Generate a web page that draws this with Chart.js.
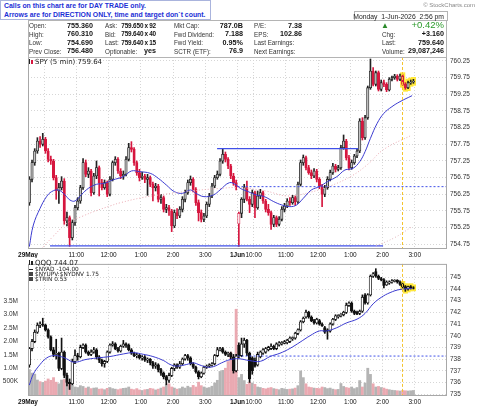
<!DOCTYPE html>
<html>
<head>
<meta charset="utf-8">
<script src="https://cdn.jsdelivr.net/npm/chart.js@4.4.1/dist/chart.umd.min.js"></script>
<style>
  body { margin: 0; width: 480px; height: 406px; background: #fff; position: relative; overflow: hidden;
         font-family: "Liberation Sans", Arial, sans-serif; }
  canvas { position: absolute; left: 0; }
  #top { top: 0; }
  #bottom { top: 257px; }
  .t { position: absolute; white-space: nowrap; line-height: 9px; z-index: 2; }
  .lb { font-size: 6.3px; color: #333; }
  .vl { font-size: 7.2px; font-weight: bold; color: #111; word-spacing: -0.5px; }
  .vs { font-size: 6.4px; letter-spacing: -0.15px; word-spacing: -0.4px; }
  #note { position: absolute; left: 0; top: 0; width: 206px; height: 18px; border: 1px solid #aab4dd;
          background: #fff; color: #1c2fd6; font-weight: bold; font-size: 6.9px; line-height: 9px;
          padding: 0 0 0 3px; z-index: 3; white-space: nowrap; }
  #info { position: absolute; left: 28px; top: 20px; width: 417px; height: 36px; border: 1px solid #b4b4b4;
          background: #fff; z-index: 1; }
  #tab { position: absolute; left: 354px; top: 11px; width: 92px; height: 9px; border: 1px solid #b4b4b4;
         border-bottom: none; background: #fff; z-index: 1; }
  .lg { position: absolute; white-space: nowrap; font-family: "DejaVu Sans", sans-serif; color: #222; z-index: 2; }
</style>
</head>
<body>
<canvas id="top" width="480" height="258"></canvas>
<canvas id="bottom" width="480" height="149"></canvas>

<div id="note">Calls on this chart are for DAY TRADE only.<br>Arrows are for DIRECTION ONLY, time and target don`t count.</div>
<div class="t" style="right:5px;top:1px;font-size:6px;color:#888;">© StockCharts.com</div>
<div id="tab"></div>
<div id="info"></div>
<div class="t" style="right:36px;top:11.5px;font-size:6.8px;color:#222;">Monday&nbsp; 1-Jun-2026&nbsp; 2:56 pm</div>

<div class="t lb" style="left:29px;top:21px;">Open:</div>
<div class="t lb" style="left:29px;top:29.5px;">High:</div>
<div class="t lb" style="left:29px;top:38px;">Low:</div>
<div class="t lb" style="left:29px;top:46.5px;">Prev Close:</div>
<div class="t vl" style="right:387px;top:20.5px;">755.360</div>
<div class="t vl" style="right:387px;top:29px;">760.310</div>
<div class="t vl" style="right:387px;top:37.5px;">754.690</div>
<div class="t vl" style="right:387px;top:46px;">756.480</div>

<div class="t lb" style="left:105px;top:21px;">Ask:</div>
<div class="t lb" style="left:105px;top:29.5px;">Bid:</div>
<div class="t lb" style="left:105px;top:38px;">Last:</div>
<div class="t lb" style="left:105px;top:46.5px;">Optionable:</div>
<div class="t vl vs" style="right:324px;top:20.5px;">759.650 x 92</div>
<div class="t vl vs" style="right:324px;top:29px;">759.640 x 40</div>
<div class="t vl vs" style="right:324px;top:37.5px;">759.640 x 15</div>
<div class="t vl" style="right:324px;top:46px;">yes</div>

<div class="t lb" style="left:174px;top:21px;">Mkt Cap:</div>
<div class="t lb" style="left:174px;top:29.5px;">Fwd Dividend:</div>
<div class="t lb" style="left:174px;top:38px;">Fwd Yield:</div>
<div class="t lb" style="left:174px;top:46.5px;">SCTR (ETF):</div>
<div class="t vl" style="right:237px;top:20.5px;">787.0B</div>
<div class="t vl" style="right:237px;top:29px;">7.188</div>
<div class="t vl" style="right:237px;top:37.5px;">0.95%</div>
<div class="t vl" style="right:237px;top:46px;">76.9</div>

<div class="t lb" style="left:254px;top:21px;">P/E:</div>
<div class="t lb" style="left:254px;top:29.5px;">EPS:</div>
<div class="t lb" style="left:254px;top:38px;">Last Earnings:</div>
<div class="t lb" style="left:254px;top:46.5px;">Next Earnings:</div>
<div class="t vl" style="right:178px;top:20.5px;">7.38</div>
<div class="t vl" style="right:178px;top:29px;">102.86</div>

<div class="t" style="left:381px;top:20.5px;font-size:8px;color:#2a8a2a;">▲</div>
<div class="t" style="right:36px;top:20px;font-size:9.5px;color:#2a9a2a;">+0.42%</div>
<div class="t lb" style="left:382px;top:29.5px;">Chg:</div>
<div class="t lb" style="left:382px;top:38px;">Last:</div>
<div class="t lb" style="left:382px;top:46.5px;">Volume:</div>
<div class="t vl" style="right:36px;top:29px;">+3.160</div>
<div class="t vl" style="right:36px;top:37.5px;">759.640</div>
<div class="t vl" style="right:36px;top:46px;">29,087,246</div>

<div class="lg" style="left:29px;top:58px;font-size:7px;line-height:8px;">
  <span style="display:inline-block;width:1px;height:5px;background:#222;margin-right:1px;"></span><span style="display:inline-block;width:2px;height:4px;background:#d6173f;margin-right:2px;"></span>SPY (5 min) 759.64</div>

<div class="lg" style="left:29px;top:260px;font-size:7px;line-height:7px;">
  <span style="display:inline-block;width:1px;height:5px;background:#222;margin-right:1px;"></span><span style="display:inline-block;width:2px;height:4px;background:#222;margin-right:2px;"></span>QQQ 744.07</div>
<div class="lg" style="left:29px;top:266px;font-size:5.8px;line-height:6px;">
  <span style="display:inline-block;width:4px;height:1px;background:#222;vertical-align:middle;margin-right:2px;"></span>$NYAD -104.00</div>
<div class="lg" style="left:29px;top:271px;font-size:5.8px;line-height:6px;">
  <span style="display:inline-block;width:4px;height:4px;background:#444;margin-right:2px;"></span>$NYUPV:$NYDNV 1.75</div>
<div class="lg" style="left:29px;top:276px;font-size:5.8px;line-height:6px;">
  <span style="display:inline-block;width:4px;height:4px;background:#444;margin-right:2px;"></span>$TRIN 0.53</div>

<script>
// SPY 5 min bars [open, high, low, close]
const spy29May = [
  [756.00,756.78,755.92,756.70],[756.70,757.28,756.62,757.20],[757.20,757.62,757.12,757.55],[757.55,757.95,757.48,757.85],
  [757.85,757.98,757.66,757.75],[757.75,758.08,757.70,757.90],[757.90,757.96,757.48,757.55],[757.55,757.62,757.22,757.30],
  [757.30,757.40,757.15,757.25],[757.25,757.30,756.68,756.75],[756.75,756.82,756.10,756.35],[756.35,756.58,755.98,756.45],
  [756.45,756.78,756.38,756.65],[756.65,756.72,755.35,755.45],[755.45,755.72,755.30,755.55],[755.55,755.60,754.69,754.95],
  [754.95,755.48,754.88,755.40],[755.40,755.92,755.32,755.85],[755.85,756.15,755.78,756.05],[756.05,756.52,755.98,756.45],
  [756.45,757.32,756.40,757.20],[757.20,757.28,756.78,756.85],[756.85,757.05,756.75,756.95],[756.95,757.00,756.20,756.30],
  [756.30,756.88,756.25,756.80],[756.80,757.25,756.72,757.05],[757.05,757.10,756.20,756.60],[756.60,756.70,756.38,756.45],
  [756.45,756.68,756.40,756.60],[756.60,756.65,756.18,756.25],[756.25,756.78,756.20,756.70],[756.70,757.25,756.65,757.20],
  [757.20,757.38,757.12,757.30],[757.30,757.35,756.88,756.95],[756.95,757.02,756.72,756.80],[756.80,756.95,756.70,756.85],
  [756.85,757.38,756.80,757.30],[757.30,757.78,757.25,757.65],[757.65,757.83,757.52,757.60],[757.60,757.65,757.12,757.20],
  [757.20,757.25,756.82,756.90],[756.90,757.00,756.65,756.75],[756.75,756.92,756.70,756.80],[756.80,756.85,756.60,756.70],
  [756.70,756.85,756.22,756.75],[756.75,756.80,756.48,756.55],[756.55,756.62,756.05,756.45],[756.45,756.58,756.35,756.50],
  [756.50,756.55,756.02,756.10],[756.10,756.25,755.98,756.15],[756.15,756.20,755.72,755.80],[755.80,755.95,755.70,755.85],
  [755.85,755.92,755.62,755.75],[755.75,755.80,755.13,755.30],[755.30,755.78,755.25,755.70],[755.70,755.82,755.52,755.60],
  [755.60,755.88,755.55,755.80],[755.80,756.18,755.72,756.10],[756.10,756.38,756.02,756.30],[756.30,756.68,756.25,756.60],
  [756.60,756.80,756.52,756.70],[756.70,756.75,756.32,756.40],[756.40,756.45,755.92,756.00],[756.00,756.08,755.45,755.70],
  [755.70,755.78,755.42,755.50],[755.50,755.68,755.43,755.60],[755.60,756.02,755.55,755.95],[755.95,756.28,755.88,756.20],
  [756.20,756.58,756.15,756.50],[756.50,756.82,756.45,756.75],[756.75,756.95,756.70,756.85],[756.85,757.32,756.80,757.25],
  [757.25,757.63,757.18,757.45],[757.45,757.52,757.22,757.30],[757.30,757.35,757.02,757.10],[757.10,757.15,756.72,756.80],
  [756.80,756.88,756.52,756.60],[756.60,756.68,756.38,756.48]
];
const spy1Jun = [
  [755.36,755.72,754.69,755.68],[755.68,756.15,755.55,756.10],[756.10,756.55,756.00,756.45],[756.45,756.65,756.05,756.10],
  [756.10,756.18,755.70,755.95],[755.95,756.38,755.88,756.30],[756.30,756.35,755.55,755.85],[755.85,756.35,755.80,756.20],
  [756.20,756.40,756.12,756.30],[756.30,756.35,755.98,756.05],[756.05,756.10,755.72,755.80],[755.80,755.95,755.62,755.70],
  [755.70,755.75,755.20,755.35],[755.35,755.62,755.28,755.55],[755.55,755.60,755.28,755.35],[755.35,755.58,755.30,755.50],
  [755.50,755.88,755.45,755.80],[755.80,755.98,755.72,755.90],[755.90,756.12,755.85,756.05],[756.05,756.15,755.92,756.00],
  [756.00,756.22,755.95,756.15],[756.15,756.20,755.92,756.02],[756.02,756.62,755.98,756.55],[756.55,757.28,756.50,757.20],
  [757.20,757.43,757.12,757.35],[757.35,757.40,756.98,757.05],[757.05,757.12,756.85,756.90],[756.90,756.98,756.72,756.80],
  [756.80,757.02,756.75,756.95],[756.95,757.00,756.62,756.70],[756.70,756.75,756.42,756.50],[756.50,756.55,755.88,756.25],
  [756.25,756.52,756.18,756.45],[756.45,756.78,756.40,756.70],[756.70,756.98,756.65,756.90],[756.90,757.18,756.85,757.10],
  [757.10,757.15,756.92,757.00],[757.00,757.12,756.95,757.05],[757.05,757.72,757.00,757.65],[757.65,758.03,757.60,757.85],
  [757.85,757.90,757.28,757.35],[757.35,757.42,756.98,757.05],[757.05,757.28,757.00,757.20],[757.20,757.45,757.15,757.40],
  [757.40,757.62,757.35,757.55],[757.55,758.52,757.50,758.45],[758.45,758.55,757.88,757.95],[757.95,758.62,757.90,758.55],
  [758.55,759.50,758.50,759.45],[759.45,760.31,759.40,759.95],[759.95,760.05,759.50,759.55],[759.55,759.95,759.50,759.90],
  [759.90,759.95,759.35,759.40],[759.40,759.68,759.35,759.60],[759.60,759.68,759.48,759.55],[759.55,759.60,759.33,759.38],
  [759.38,759.75,759.35,759.70],[759.70,759.80,759.65,759.75],[759.75,759.85,759.70,759.80],[759.80,759.84,759.65,759.70],
  [759.70,759.86,759.66,759.80],[759.80,759.84,759.52,759.55],[759.55,759.60,759.40,759.45],[759.45,759.65,759.42,759.60],
  [759.60,759.68,759.55,759.62],[759.62,759.70,759.58,759.64]
];

// QQQ 5 min bars [open, high, low, close]
const qqq29May = [
  [737.5,739.0,737.3,738.9],[738.9,739.7,738.7,739.5],[739.5,740.5,739.4,740.3],[740.3,741.1,740.2,740.9],
  [740.9,741.2,740.7,741.0],[741.0,741.5,740.8,740.9],[740.9,741.0,740.4,740.5],[740.5,740.6,739.8,739.9],
  [739.9,740.0,738.7,738.8],[738.8,739.0,738.2,738.4],[738.4,739.7,738.0,738.5],[738.5,738.6,737.0,737.2],
  [737.2,739.8,737.1,738.6],[738.6,738.7,736.4,736.6],[736.6,736.8,735.7,736.0],[736.0,736.3,735.4,735.9],
  [735.9,738.0,735.8,737.8],[737.8,738.8,737.6,738.3],[738.3,738.5,737.9,738.2],[738.2,739.2,738.1,739.0],
  [739.0,739.3,738.9,739.2],[739.2,739.3,738.5,738.6],[738.6,738.7,738.3,738.4],[738.4,738.8,738.3,738.6],
  [738.6,739.0,738.5,738.8],[738.8,738.9,738.0,738.2],[738.2,738.3,737.7,737.9],[737.9,738.0,737.4,737.6],
  [737.6,737.9,737.3,737.8],[737.8,738.7,737.7,738.6],[738.6,739.3,738.5,739.2],[739.2,739.5,739.1,739.3],
  [739.3,739.4,738.8,738.9],[738.9,739.0,738.6,738.7],[738.7,739.2,738.6,739.1],[739.1,739.6,739.0,739.3],
  [739.3,739.4,739.0,739.2],[739.2,739.3,738.7,738.8],[738.8,738.9,738.4,738.5],[738.5,738.6,738.2,738.3],
  [738.3,738.5,738.1,738.35],[738.35,738.4,738.0,738.1],[738.1,738.3,737.9,738.2],[738.2,738.3,737.8,737.9],
  [737.9,738.1,737.7,738.0],[738.0,738.05,737.5,737.7],[737.7,737.8,737.2,737.4],[737.4,737.7,737.2,737.5],
  [737.5,737.6,736.9,737.1],[737.1,737.2,736.6,736.8],[736.8,736.9,736.3,736.5],[736.5,736.6,735.8,736.2],
  [736.2,736.8,736.0,736.6],[736.6,737.3,736.5,737.2],[737.2,737.6,737.0,737.5],[737.5,737.6,737.2,737.3],
  [737.3,737.8,737.2,737.6],[737.6,738.1,737.5,738.0],[738.0,738.4,737.9,738.3],[738.3,738.4,737.9,738.1],
  [738.1,738.2,737.5,737.6],[737.6,737.7,737.2,737.3],[737.3,737.4,736.8,736.9],[736.9,737.0,736.3,736.5],
  [736.5,736.9,736.4,736.8],[736.8,737.4,736.7,737.3],[737.3,737.5,737.2,737.4],[737.4,737.6,737.3,737.5],
  [737.5,737.7,737.4,737.6],[737.6,738.4,737.5,738.3],[738.3,739.0,738.2,738.8],[738.8,739.0,738.7,738.9],
  [738.9,739.0,738.5,738.6],[738.6,738.7,738.3,738.4],[738.4,738.6,738.2,738.5],[738.5,738.6,738.0,738.2],
  [738.2,738.4,736.8,737.0],[737.0,738.4,736.9,738.26]
];
const qqq1Jun = [
  [739.2,739.4,738.1,738.3],[738.3,739.8,738.2,739.3],[739.3,739.8,739.0,739.6],[739.6,739.7,738.3,738.5],
  [738.5,738.6,736.0,736.3],[738.1,738.2,736.7,737.0],[737.9,738.1,737.3,737.4],[737.5,738.6,737.4,738.4],
  [738.2,738.7,738.1,738.6],[738.5,738.9,738.4,738.8],[738.6,739.0,738.5,738.9],[738.8,739.1,738.7,739.0],
  [738.9,739.3,738.8,739.1],[739.1,739.2,738.8,738.9],[738.9,739.4,738.8,739.3],[739.2,739.5,739.1,739.4],
  [739.3,739.5,739.2,739.45],[739.35,739.6,739.3,739.5],[739.4,739.7,739.3,739.6],[739.5,739.9,739.4,739.8],
  [739.75,739.9,739.6,739.85],[739.8,740.3,739.7,740.2],[740.2,740.6,740.1,740.5],[740.5,741.3,740.4,741.2],
  [741.2,741.6,741.1,741.5],[741.6,742.2,741.5,742.0],[742.0,742.1,741.5,741.6],[741.6,741.7,741.2,741.3],
  [741.3,741.4,741.0,741.1],[741.1,741.5,741.0,741.4],[741.3,741.4,740.9,741.0],[741.0,741.1,740.8,740.85],
  [740.7,740.8,740.2,740.3],[740.5,740.6,739.7,740.4],[740.4,741.1,740.3,741.0],[741.0,741.5,740.9,741.4],
  [741.4,741.8,741.3,741.7],[741.6,741.8,741.5,741.75],[741.7,741.9,741.6,741.85],[741.8,742.1,741.7,742.0],
  [742.0,742.8,741.9,742.6],[742.6,742.9,742.5,742.8],[742.8,742.9,742.0,742.1],[742.1,742.2,741.8,741.9],
  [742.0,742.1,741.8,741.85],[741.9,742.2,741.8,742.1],[742.1,743.5,742.0,743.3],[743.5,743.6,742.7,742.8],
  [742.8,743.6,742.7,743.5],[743.5,745.2,743.4,745.1],[745.1,745.4,745.0,745.3],[745.5,745.74,745.0,745.1],
  [745.1,745.2,744.8,744.9],[744.9,745.0,744.7,744.8],[744.8,744.9,744.1,744.3],[744.35,744.7,744.3,744.6],
  [744.5,744.7,744.4,744.6],[744.6,744.8,744.5,744.7],[744.65,744.8,744.6,744.75],[744.75,744.8,744.5,744.6],
  [744.6,744.7,744.3,744.4],[744.4,744.5,744.1,744.2],[744.2,744.3,743.8,744.0],[744.0,744.25,743.9,744.2],
  [744.2,744.3,744.0,744.1],[744.1,744.2,744.0,744.07]
];

// SPY volume, thousands of shares per bar
const volume29May = [950,820,780,560,500,470,520,600,550,650,480,420,560,580,470,420,380,300,280,350,
  320,260,300,240,260,270,220,230,200,250,280,240,220,200,230,250,260,300,220,200,
  240,190,170,200,210,250,230,190,220,260,300,380,420,300,260,220,240,300,260,330,
  280,360,300,480,350,300,260,280,330,450,550,880,920,1000,1250,1600,1300,3200];
const volume1Jun = [650,770,540,400,480,450,400,300,280,250,230,260,280,240,220,200,250,230,210,220,
  230,260,350,900,650,420,300,280,260,250,240,300,280,240,260,220,200,210,430,320,
  280,260,300,240,280,540,300,450,1000,770,420,300,320,280,260,220,200,180,170,160,
  150,170,160,150,160,170];

// moving averages [bar, value]
const spyMaFast = [[0,754.68],[1.5,755.33],[4,755.83],[6.4,756.18],[8.3,756.33],[10.8,756.38],[13.3,756.23],[15.1,756.08],
  [17,756.05],[19.5,756.25],[22,756.43],[25,756.55],[28,756.58],[31,756.68],[35,756.78],[38,756.95],[41,756.93],
  [45,756.88],[48,756.73],[51,756.53],[54,756.33],[57,756.28],[60,756.38],[62,756.28],[65,756.18],[68.5,756.23],
  [71,756.38],[74.5,756.6],[77,756.53],[78.5,756.43],[81.5,756.33],[84.5,756.23],[87.5,756.18],[91,756.03],
  [94,755.93],[97,755.88],[99.5,755.93],[102,756.13],[105,756.38],[108,756.48],[111,756.63],[114.5,756.78],
  [117.5,756.98],[120.5,757.03],[123,757.23],[125,757.53],[127,757.93],[129.5,758.38],[132,758.68],[135,758.88],
  [138,759.03],[142.5,759.21]];
const spyMaSlow = [[5,754.66],[9,755.0],[14,755.38],[20,755.6],[24,755.73],[30,755.9],[34,756.0],[42,756.15],
  [50,756.25],[60,756.35],[70,756.42],[78,756.45],[88,756.35],[96,756.2],[104,756.3],[112,756.5],[120,756.8],
  [126,757.15],[132,757.6],[142.5,758.03]];
const spyMaLong = [[129,754.70],[136,754.95],[142.5,755.28]];
const qqqMa = [[0,735.77],[1.5,736.72],[4,737.54],[6.4,738.09],[9,738.3],[12,738.2],[14.5,737.95],[16,737.76],
  [18,737.76],[20.7,737.95],[25,738.09],[30,738.22],[35,738.44],[38.7,738.55],[42.4,738.41],[46,738.22],[50,737.87],
  [52.4,737.54],[54.8,737.4],[58.6,737.54],[61,737.68],[63.5,737.49],[66,737.32],[68.5,737.35],[71.6,737.68],
  [74.7,737.95],[78,738.03],[82,737.87],[86,737.81],[89.6,738.22],[93.3,738.5],[97,738.91],[100.8,739.45],
  [104.5,740.0],[108,740.41],[110.7,740.41],[114.4,740.68],[118,741.09],[122,741.42],[125,741.91],[128,742.73],
  [131,743.28],[134.3,743.69],[138,743.96],[142.5,744.04]];

// drawn levels [fromBar, toBar, price]
const spySupport = [7.7, 131.7, 754.70];
const spyResistance = [69.9, 122.4, 757.62];
const spyPrevClose = [77.5, 155.5, 756.48];
const qqqPrevClose = [77.5, 155.5, 738.26];
const markerBar = 138.7;
const highlightFrom = 139;

// axes
const xTicks = [-0.5, 5.5, 17.5, 29.5, 41.5, 53.5, 65.5, 77.5, 83.5, 95.5, 107.5, 119.5, 131.5, 143.5];
const xTickLabels = ['29May', '', '11:00', '12:00', '1:00', '2:00', '3:00', '1Jun', '10:00', '11:00', '12:00', '1:00', '2:00', '3:00'];
const spyTicks = [754.75, 755.00, 755.25, 755.50, 755.75, 756.00, 756.25, 756.50, 756.75, 757.00, 757.25, 757.50,
  757.75, 758.00, 758.25, 758.50, 758.75, 759.00, 759.25, 759.50, 759.75, 760.00, 760.25];
const qqqTicks = [735, 736, 737, 738, 739, 740, 741, 742, 743, 744, 745];
const volTicks = [500000, 1000000, 1500000, 2000000, 2500000, 3000000, 3500000];
const volTickLabels = ['500K', '1.0M', '1.5M', '2.0M', '2.5M', '3.0M', '3.5M'];

const FONT = '"Liberation Sans", Arial, sans-serif';
const RED = '#d6173f';
const BLUE = '#3b3bd0';

const spyBars = spy29May.concat(spy1Jun);
const qqqBars = qqq29May.concat(qqq1Jun);
const volume = volume29May.concat(volume1Jun);

function pts(list) { return list.map(p => ({ x: p[0], y: p[1] })); }
function level(l) { return [{ x: l[0], y: l[2] }, { x: l[1], y: l[2] }]; }

function candleSets(bars, colorOf, fillOf, body) {
  const hl = bars.map((b, i) => i >= highlightFrom ? { x: i, y: [b[2] - 0.02 * body.hl, b[1] + 0.02 * body.hl] } : null)
                 .filter(Boolean);
  return [
    { type: 'bar', data: hl, grouped: false, barThickness: 4.5, backgroundColor: '#ffe83a', order: 3 },
    { type: 'bar', grouped: false, barThickness: 1, order: 2,
      data: bars.map((b, i) => ({ x: i, y: [b[2], b[1]] })),
      backgroundColor: bars.map((b, i) => colorOf(b, i)) },
    { type: 'bar', grouped: false, barThickness: body.w, order: 1, borderSkipped: false,
      borderWidth: body.bw,
      data: bars.map((b, i) => ({ x: i, y: [Math.min(b[0], b[3]), Math.max(b[0], b[3])] })),
      backgroundColor: bars.map((b, i) => fillOf(b, i)),
      borderColor: bars.map((b, i) => colorOf(b, i)) }
  ];
}

const spyColor = (b, i) => {
  const prev = i > 0 ? spyBars[i - 1][3] : b[0];
  return b[3] < prev ? RED : '#222';
};
const spyFill = (b, i) => b[3] < b[0] ? RED : (spyColor(b, i) === RED ? '#fff' : '#c4c4c4');
const qqqColor = () => '#111';
const qqqFill = b => b[3] < b[0] ? '#111' : '#fff';

function xScale(h) {
  return {
    type: 'linear', min: -0.5, max: 155.5, offset: false,
    afterBuildTicks: s => { s.ticks = xTicks.map(v => ({ value: v })); },
    afterFit: s => { s.height = h; },
    ticks: { autoSkip: false, maxRotation: 0, padding: 2, color: '#111',
      callback: (v, i) => xTickLabels[i],
      font: c => ({ family: FONT, size: 6.5, weight: /May|Jun/.test(xTickLabels[c.index]) ? 'bold' : 'normal' }) },
    grid: { color: '#d6d6d6', drawTicks: false, offset: false },
    border: { display: false, dash: [1, 2] }
  };
}

function priceScale(min, max, ticks, digits) {
  return {
    position: 'right', min: min, max: max,
    afterBuildTicks: s => { s.ticks = ticks.map(v => ({ value: v })); },
    afterFit: s => { s.width = 33; },
    ticks: { padding: 3, color: '#333', font: { family: FONT, size: 6.5 }, callback: v => v.toFixed(digits) },
    grid: { color: '#d6d6d6', drawTicks: false },
    border: { display: false, dash: [1, 2] }
  };
}

const framePlugin = {
  id: 'frame',
  afterDatasetsDraw(chart) {
    const { ctx, chartArea: a } = chart;
    const x = Math.round(chart.scales.x.getPixelForValue(markerBar)) + 0.5;
    ctx.save();
    ctx.strokeStyle = '#f4c430';
    ctx.lineWidth = 1;
    ctx.setLineDash([3, 2]);
    ctx.beginPath(); ctx.moveTo(x, a.top); ctx.lineTo(x, a.bottom); ctx.stroke();
    ctx.setLineDash([]);
    ctx.strokeStyle = '#a8a8a8';
    ctx.strokeRect(a.left + 0.5, a.top + 0.5, a.width - 1, a.height - 1);
    ctx.restore();
  }
};

const common = {
  responsive: false, animation: false, devicePixelRatio: 1,
  plugins: { legend: { display: false }, tooltip: { enabled: false } },
  elements: { point: { radius: 0 } }
};

function line(data, color, width, dash, axis, tension) {
  return { type: 'line', data: data, borderColor: color, borderWidth: width, borderDash: dash || [],
           pointRadius: 0, tension: tension || 0, yAxisID: axis || 'y', order: 0, fill: false };
}

new Chart(document.getElementById('top'), {
  type: 'bar',
  data: { datasets: [
    ...candleSets(spyBars, spyColor, spyFill, { w: 2.4, bw: 0.8, hl: 3 }),
    line(pts(spyMaLong), '#e2b8bd', 1, [1, 2], 'y', 0.4),
    line(pts(spyMaSlow), '#eaaab2', 1, [1, 2], 'y', 0.4),
    line(pts(spyMaFast), BLUE, 1, null, 'y', 0.4),
    line(level(spySupport), '#4050e8', 1.3),
    line(level(spyResistance), '#4050e8', 1.3),
    line(level(spyPrevClose), '#4050e8', 1, [2, 2])
  ] },
  options: Object.assign({}, common, {
    layout: { padding: { top: 57, left: 28, right: 0, bottom: 0 } },
    scales: { x: xScale(9), y: priceScale(754.609, 760.37, spyTicks, 2) }
  }),
  plugins: [framePlugin]
});

const volColors = spyBars.map(b => b[3] < b[0] ? '#eaa9b1' : '#b4b4b4');

new Chart(document.getElementById('bottom'), {
  type: 'bar',
  data: { datasets: [
    { type: 'bar', yAxisID: 'yv', grouped: false, barThickness: 2.2, order: 4,
      data: volume.map((v, i) => ({ x: i, y: v * 1000 })), backgroundColor: volColors },
    ...candleSets(qqqBars, qqqColor, qqqFill, { w: 2.6, bw: 0.8, hl: 8 }),
    line(pts(qqqMa), BLUE, 1, null, 'y', 0.4),
    line(level(qqqPrevClose), '#4050e8', 1, [2, 2])
  ] },
  options: Object.assign({}, common, {
    layout: { padding: { top: 1, left: 0, right: 0, bottom: 0 } },
    scales: {
      x: xScale(10),
      y: priceScale(734.84, 746.15, qqqTicks, 0),
      yv: {
        position: 'left', min: -36000, max: 4890000,
        afterBuildTicks: s => { s.ticks = volTicks.map(v => ({ value: v })); },
        afterFit: s => { s.width = 28; },
        ticks: { padding: 2, color: '#333', font: { family: FONT, size: 6.5 },
                 callback: (v, i) => volTickLabels[i] },
        grid: { display: false },
        border: { display: false }
      }
    }
  }),
  plugins: [framePlugin]
});
</script>
</body>
</html>
